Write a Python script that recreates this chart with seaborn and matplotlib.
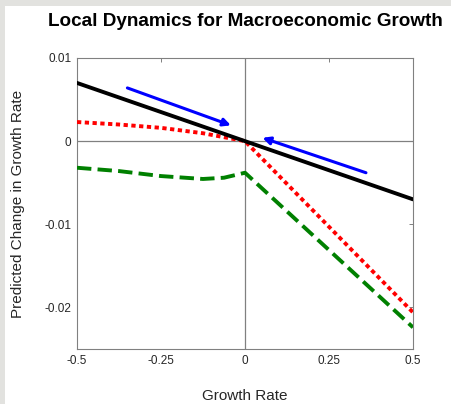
import numpy as np
import matplotlib
matplotlib.use("Agg")
import matplotlib.pyplot as plt
from matplotlib.patches import Rectangle
import seaborn as sns

# Data
black_x = [-0.5, 0.5]
black_y = [0.007, -0.007]

red_x = [-0.5, -0.375, -0.25, -0.125, 0.0, 0.5]
red_y = [0.0023, 0.0020, 0.0016, 0.00095, 0.0, -0.0206]

green_x = [-0.5, -0.375, -0.25, -0.125, -0.0625, 0.0, 0.5]
green_y = [-0.0032, -0.0036, -0.0042, -0.00455, -0.0044, -0.0038, -0.0224]

# arrows: (start x, start y, end x, end y)
arrow_left = (-0.35, 0.0064, -0.042, 0.0019)
arrow_right = (0.36, -0.0038, 0.052, 0.0004)

xticks = [-0.5, -0.25, 0, 0.25, 0.5]
xtick_labels = ["-0.5", "-0.25", "0", "0.25", "0.5"]
yticks = [0.01, 0, -0.01, -0.02]
ytick_labels = ["0.01", "0", "-0.01", "-0.02"]

sns.set_theme(style="white")
plt.rcParams["font.family"] = ["Liberation Sans", "DejaVu Sans"]
plt.rcParams["axes.unicode_minus"] = False

fig = plt.figure(figsize=(4.51, 4.04), dpi=100)
fig.patch.set_facecolor("white")
# light gray window frame at the top and left edge
gray = "#e2e2df"
fig.patches.append(Rectangle((0, 1 - 6 / 404), 1, 6 / 404, transform=fig.transFigure,
                             facecolor=gray, edgecolor="none"))
fig.patches.append(Rectangle((0, 0), 5 / 451, 1, transform=fig.transFigure,
                             facecolor=gray, edgecolor="none"))
ax = fig.add_axes([77 / 451, 1 - 349 / 404, 336 / 451, 291 / 404])
ax.set_zorder(2)

ax.axhline(0, color="#808080", lw=0.9, zorder=1)
ax.axvline(0, color="#808080", lw=0.9, zorder=1)

sns.lineplot(x=red_x, y=red_y, ax=ax, color="red", lw=2.8,
             linestyle=(0, (1.1, 0.9)), zorder=3)
sns.lineplot(x=green_x, y=green_y, ax=ax, color="green", lw=2.8,
             linestyle=(0, (3.7, 1.6)), zorder=3)
sns.lineplot(x=black_x, y=black_y, ax=ax, color="black", lw=2.8, zorder=4)

for x0, y0, x1, y1 in [arrow_left, arrow_right]:
    ax.annotate("", xy=(x1, y1), xytext=(x0, y0),
                arrowprops=dict(arrowstyle="-|>", color="#0000ff", lw=2.2,
                                mutation_scale=11, shrinkA=0, shrinkB=0),
                zorder=5)

ax.set_xlim(-0.5, 0.5)
ax.set_ylim(-0.025, 0.01)
ax.set_xticks(xticks)
ax.set_xticklabels(xtick_labels)
ax.set_yticks(yticks)
ax.set_yticklabels(ytick_labels)
ax.tick_params(direction="in", length=3, width=0.7, colors="#808080",
               labelcolor="#262626", labelsize=8.5, top=True, right=True, pad=4)
for s in ax.spines.values():
    s.set_color("#808080")
    s.set_linewidth(0.8)
    s.set_visible(True)

ax.set_xlabel("Growth Rate", fontsize=11, color="#262626", labelpad=16)
ax.set_ylabel("Predicted Change in Growth Rate", fontsize=11, color="#262626", labelpad=14)
ax.set_title("Local Dynamics for Macroeconomic Growth", fontsize=13.6,
             fontweight="bold", color="black", pad=23)

fig.savefig("out.png", dpi=100)
